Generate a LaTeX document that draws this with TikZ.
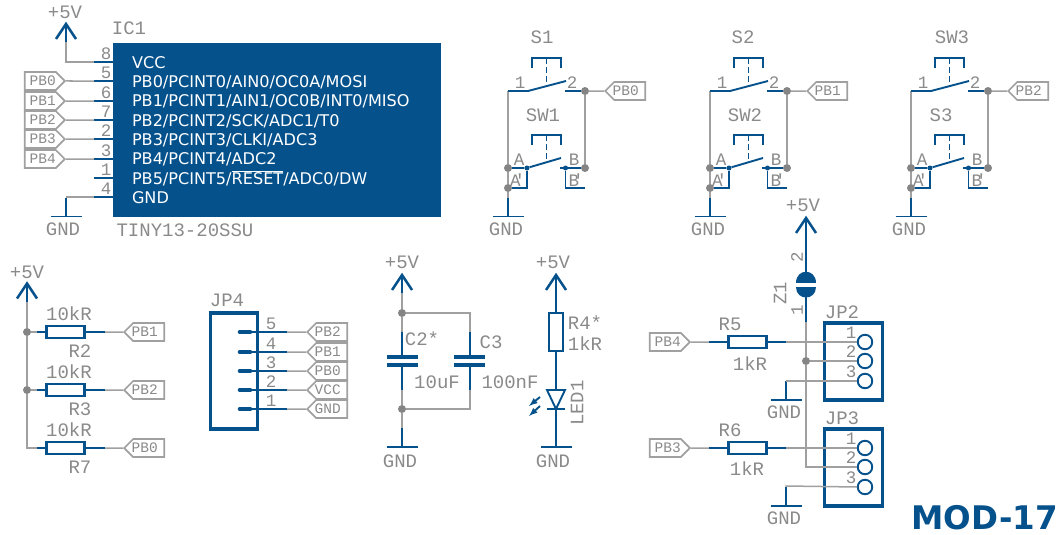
\documentclass[tikz,border=0pt]{standalone}
\usepackage{fontspec}
\usetikzlibrary{shapes.symbols,calc}
\setmainfont{DejaVu Sans}
\newfontfamily\labf{Liberation Mono}
\definecolor{bl}{HTML}{05518C}
\definecolor{wg}{HTML}{A0A0A0}
\definecolor{dg}{HTML}{858585}
\definecolor{tg}{HTML}{8A8A8A}
\tikzset{
  wire/.style={draw=wg,line width=1.5pt},
  pin/.style={draw=bl,line width=1.9pt},
  headpin/.style={draw=bl,line width=2.5pt},
  barpin/.style={draw=bl,line width=2.6pt},
  thick box/.style={draw=bl,line width=3.6pt,inner sep=0pt,rectangle},
  dot/.style={circle,fill=dg,minimum size=8pt,inner sep=0pt},
  smalldot/.style={circle,fill=bl,minimum size=5pt,inner sep=0pt},
  lab/.style={text=tg,font=\labf\fontsize{19}{19}\selectfont,inner sep=0pt},
  num/.style={text=tg,font=\labf\fontsize{17.5}{17.5}\selectfont,inner sep=0pt},
  tag/.style={shape=signal,draw=wg,line width=1.7pt,minimum width=40pt,minimum height=18pt,inner sep=0pt,text=tg,font=\labf\fontsize{14.5}{14.5}\selectfont},
  tagr/.style={tag,signal to=east,anchor=east},
  tagl/.style={tag,signal to=west,anchor=west},
  res/.style={draw=bl,line width=2.4pt,rectangle,inner sep=0pt,minimum width=38pt,minimum height=12.5pt},
  hole/.style={circle,draw=bl,line width=1.9pt,minimum size=14.5pt,inner sep=0pt},
  plate/.style={draw=bl,line width=3.8pt},
}
% supply arrow: name, x, apex y, label x, label y
\newcommand\Supply[5]{%
  \coordinate (#1) at (#2,#3);
  \coordinate (#1s) at (#2,#3+18);
  \draw[headpin] ($(#1)+(-10,15)$) -- (#1) -- ($(#1)+(10,15)$);
  \draw[pin] (#1) -- (#1s);
  \node[lab] (#1t) at (#4,#5) {+5V};}
% ground: name, x, bar y, label x, label y
\newcommand\Ground[5]{%
  \coordinate (#1) at (#2,#3);
  \coordinate (#1s) at (#2,#3-19);
  \draw[pin] ($(#1)+(-15.5,0)$) -- ($(#1)+(15.5,0)$);
  \draw[pin] (#1) -- (#1s);
  \node[lab] (#1t) at (#4,#5) {GND};}
% switch pair: prefix, x offset, top label, top label x, lower label, lower label x, tag
\newcommand\Switch[7]{%
\begin{scope}[xshift=#2]
  \coordinate (#1a) at (508,91);
  \coordinate (#1b) at (528,91);
  \coordinate (#1c) at (566,81);
  \coordinate (#1d) at (565,91);
  \node[dot] (#1e) at (585,91) {};
  \node[dot] (#1f) at (508,168) {};
  \node[dot] (#1g) at (585,168) {};
  \node[dot] (#1h) at (508,188) {};
  \node[smalldot] (#1i) at (527,168) {};
  \node[smalldot] (#1j) at (565.5,168) {};
  \coordinate (#1k) at (561,158);
  \node[tagl] (#1t) at (604,91) {\kern-4pt#7\kern4pt};
  \draw[wire] (#1a) -- (#1f) -- (#1h);
  \draw[wire] (#1e) -- (#1g);
  \draw[wire] (#1e) -- (#1t);
  \draw[pin] (#1a) -- (#1b) -- (#1c);
  \draw[pin] (#1d) -- (#1e);
  \draw[pin] (#1f) -- (#1i) -- (#1k);
  \draw[pin] (560,168) -- (#1g);
  \draw[pin] (#1i) |- (#1h);
  \draw[pin] (#1j) |- (585,188);
  \draw[barpin] (532,68) -- (532,58) -- (561,58) -- (561,68);
  \draw[pin,dash pattern=on 6pt off 3pt] (546.5,58) -- (546.5,86);
  \draw[barpin] (532,145) -- (532,135) -- (561,135) -- (561,145);
  \draw[pin,dash pattern=on 6pt off 3pt] (546.5,135) -- (546.5,163);
  \Ground{#1gnd}{508}{216.5}{506}{229}
  \draw[wire] (#1h) -- (#1gnds);
  \node[num] (#1n1) at (520,83) {1};
  \node[num] (#1n2) at (572,83) {2};
  \node[num] (#1nA) at (519,160) {A};
  \node[num] (#1nB) at (574,160) {B};
  \node[num] (#1nC) at (517.5,180) {A\kern-6pt'};
  \node[num] (#1nD) at (576,180) {B\kern-6pt'};
\end{scope}
  \node[lab] (#1top) at (#4,37) {#3};
  \node[lab] (#1low) at (#6,115) {#5};}
% resistor row: name, y, refdes, tag
\newcommand\ResRow[4]{%
  \node[res] (#1) at (65.5,#2) {};
  \coordinate (#1l) at (37,#2);
  \coordinate (#1r) at (105,#2);
  \node[tagl] (#1t) at (123,#2) {\kern-4pt#4\kern4pt};
  \draw[pin] (#1l) -- (#1);
  \draw[pin] (#1) -- (#1r);
  \draw[wire] (#1r) -- (#1t);
  \node[lab] (#1v) at (69,#2-18) {10kR};
  \node[lab] (#1n) at (80,#2+19) {#3};}
% JP4 row
\newcommand\HdrRow[3]{%
  \coordinate (jp#1a) at (240,#2);
  \coordinate (jp#1b) at (250,#2);
  \coordinate (jp#1c) at (287,#2);
  \node[tagl] (jp#1t) at (306,#2) {\kern-4pt#3\kern4pt};
  \draw[draw=bl,line width=4.6pt,line cap=round] (jp#1a) -- (jp#1b);
  \draw[pin] (jp#1b) -- (jp#1c);
  \draw[wire] (jp#1c) -- (jp#1t);
  \node[num] (jp#1n) at (271,#2-8) {#1};}
% IC pin row
\newcommand\IcRow[3]{%
  \coordinate (ic#1a) at (94,#2);
  \coordinate (ic#1b) at (113,#2);
  \draw[pin] (ic#1a) -- (ic#1b);
  \node[num] (ic#1n) at (106,#2-8) {#1};
  \ifx\relax#3\relax\else
    \node[tagr] (ic#1t) at (66,#2) {\hspace*{5pt}#3};
    \draw[wire] (ic#1t) -- (ic#1a);
  \fi}
% jumper: name, first pin y, label offset
\newcommand\Jumper[3]{%
  \node[thick box,minimum width=58pt,minimum height=77pt] (#1) at (853.5,#2+19.5) {};
  \node[hole] (#1h1) at (865,#2) {};
  \node[hole] (#1h2) at (865,#2+19) {};
  \node[hole] (#1h3) at (865,#2+39) {};
  \coordinate (#1s1) at (857,#2);
  \coordinate (#1s2) at (857,#2+19);
  \coordinate (#1s3) at (857,#2+39);
  \node[num] (#1n1) at (851,#2-9) {1};
  \node[num] (#1n2) at (851,#2+10) {2};
  \node[num] (#1n3) at (851,#2+30) {3};
  \node[lab] (#1t) at (842,#2+#3) {#1};}
\begin{document}
\begin{tikzpicture}[x=1pt,y=-1pt]
\useasboundingbox (0,0) rectangle (1062,535);
% ---- IC1
\node[rectangle,fill=bl,draw=none,minimum width=328pt,minimum height=174pt,inner xsep=19pt,inner ysep=0pt,text width=290pt,align=left,text=white,font=\fontsize{16.1}{19.35}\selectfont] (IC) at (277,130)
{VCC\\PB0/PCINT0/AIN0/OC0A/MOSI\\PB1/PCINT1/AIN1/OC0B/INT0/MISO\\PB2/PCINT2/SCK/ADC1/T0\\PB3/PCINT3/CLKI/ADC3\\PB4/PCINT4/ADC2\\PB5/PCINT5/$\overline{\mbox{RESET}}$/ADC0/DW\\GND};
\node[lab] (ICn) at (129,28) {IC1};
\node[lab] (ICv) at (185,230) {TINY13-20SSU};
\IcRow{8}{62}{}
\IcRow{5}{81}{PB0}
\IcRow{6}{101}{PB1}
\IcRow{7}{120}{PB2}
\IcRow{2}{139}{PB3}
\IcRow{3}{159}{PB4}
\IcRow{1}{178}{}
\IcRow{4}{197}{}
\Supply{p1}{66}{24}{65}{12}
\draw[wire] (p1s) |- (ic8a);
\Ground{g1}{66}{216.5}{63}{229}
\draw[wire] (66,197) -- (ic4a);
% ---- switches
\Switch{A}{0}{S1}{542}{SW1}{543}{PB0}
\Switch{B}{202}{S2}{743}{SW2}{745}{PB1}
\Switch{C}{403}{SW3}{952}{S3}{941}{PB2}
% ---- pull-ups
\Supply{p2}{27}{283.5}{27}{272}
\node[dot] (j1) at (27,332) {};
\node[dot] (j2) at (27,390) {};
\ResRow{R2}{332}{R2}{PB1}
\ResRow{R3}{390}{R3}{PB2}
\ResRow{R7}{448}{R7}{PB0}
\draw[wire] (p2s) -- (j1) -- (j2) -- (27,448) -- (R7l);
\draw[wire] (j1) -- (R2l);
\draw[wire] (j2) -- (R3l);
% ---- JP4
\node[thick box,minimum width=47pt,minimum height=116pt] (JP4) at (234,371) {};
\node[lab] (JP4t) at (227,300) {JP4};
\HdrRow{5}{332}{PB2}
\HdrRow{4}{352}{PB1}
\HdrRow{3}{371}{PB0}
\HdrRow{2}{390}{VCC}
\HdrRow{1}{409}{GND}
% ---- capacitors
\Supply{p3}{402}{275}{402}{262}
\Ground{g3}{402}{447}{400}{461}
\node[dot] (j3) at (402,313) {};
\node[dot] (j4) at (402,409) {};
\coordinate (c2a) at (402,332);
\coordinate (c2b) at (402,357);
\coordinate (c2c) at (402,365);
\coordinate (c2d) at (402,390);
\coordinate (c3a) at (470,332);
\coordinate (c3b) at (470,357);
\coordinate (c3c) at (470,365);
\coordinate (c3d) at (470,390);
\draw[wire] (p3s) -- (j3) -- (c2a);
\draw[wire] (j3) -| (c3a);
\draw[wire] (c2d) -- (j4) -- (g3s);
\draw[wire] (j4) -| (c3d);
\draw[pin] (c2a) -- (c2b);
\draw[pin] (c2c) -- (c2d);
\draw[pin] (c3a) -- (c3b);
\draw[pin] (c3c) -- (c3d);
\draw[plate] (386.5,357) -- (417.5,357);
\draw[plate] (386.5,365) -- (417.5,365);
\draw[plate] (453.5,357) -- (485,357);
\draw[plate] (453.5,365) -- (485,365);
\node[lab] (C2) at (422,339) {C2*};
\node[lab] (C2v) at (437,382) {10uF};
\node[lab] (C3) at (491,342) {C3};
\node[lab] (C3v) at (510,382) {100nF};
% ---- LED
\Supply{p4}{556}{275}{553}{262}
\Ground{g4}{556}{447}{553}{461}
\node[draw=bl,line width=1.9pt,rectangle,inner sep=0pt,minimum width=13.5pt,minimum height=37.5pt] (R4) at (556,332) {};
\coordinate (d1) at (556,390);
\coordinate (d2) at (556,409);
\draw[pin] (p4s) -- (R4);
\draw[pin] (R4) -- (d1);
\draw[pin] (d2) -- (g4s);
\draw[pin,line join=miter] (547,390) -- (565,390) -- (d2) -- cycle;
\draw[pin] (547,409) -- (565,409);
\draw[draw=bl,line width=1.9pt,-latex] (540,397) -- (529,406);
\draw[draw=bl,line width=1.9pt,-latex] (540,406) -- (529,416);
\node[lab] (R4t) at (585,323) {R4*};
\node[lab] (R4v) at (585,344) {1kR};
\node[lab,rotate=90] (LED) at (577,403) {LED1};
% ---- Z1 and jumpers
\Supply{p5}{806}{218}{803}{205}
\coordinate (z1) at (806,272);
\coordinate (z2) at (806,297);
\coordinate (z3) at (806,322);
\draw[pin] (p5s) -- (z1);
\draw[pin] (z2) -- (z3);
\fill[bl] (796,283) .. controls (796,268) and (816,268) .. (816,283) -- cycle;
\fill[bl] (796,287) .. controls (796,301) and (816,301) .. (816,287) -- cycle;
\node[num,rotate=90] (z1n2) at (797,257) {2};
\node[num,rotate=90] (z1n1) at (797,310) {1};
\node[lab,rotate=90] (Z1) at (780,293) {Z1};
\Jumper{JP2}{342}{-30}
\Jumper{JP3}{448}{-30}
\node[dot] (j5) at (806,361) {};
\draw[wire] (z3) -- (j5) -- (806,467) -- (JP3s2);
\draw[wire] (j5) -- (JP2s2);
% resistors R5 R6
\node[res] (R5) at (747.5,342) {};
\node[res] (R6) at (747.5,448) {};
\coordinate (R5a) at (709,342);
\coordinate (R5b) at (786,342);
\coordinate (R6a) at (709,448);
\coordinate (R6b) at (786,448);
\node[tagr] (T4) at (691,342) {\hspace*{5pt}PB4};
\node[tagr] (T3) at (691,448) {\hspace*{5pt}PB3};
\draw[wire] (T4) -- (R5a);
\draw[wire] (T3) -- (R6a);
\draw[pin] (R5a) -- (R5);
\draw[pin] (R5) -- (R5b);
\draw[pin] (R6a) -- (R6);
\draw[pin] (R6) -- (R6b);
\draw[wire] (R5b) -- (JP2s1);
\draw[wire] (R6b) -- (JP3s1);
\Ground{g5}{786}{400}{784}{412}
\Ground{g6}{786}{506}{784}{518}
\draw[wire] (g5s) -- (786,381) -- (JP2s3);
\draw[wire] (g6s) -- (786,486) -- (JP3s3);
\node[lab] (R5t) at (730,324) {R5};
\node[lab] (R5v) at (750,364) {1kR};
\node[lab] (R6t) at (730,430) {R6};
\node[lab] (R6v) at (747,469) {1kR};
% ---- title
\node[inner sep=0pt,anchor=base east,text=bl,font=\bfseries\fontsize{32.5}{32.5}\selectfont] (mod) at (1058,529) {MOD-17};
\end{tikzpicture}
\end{document}
